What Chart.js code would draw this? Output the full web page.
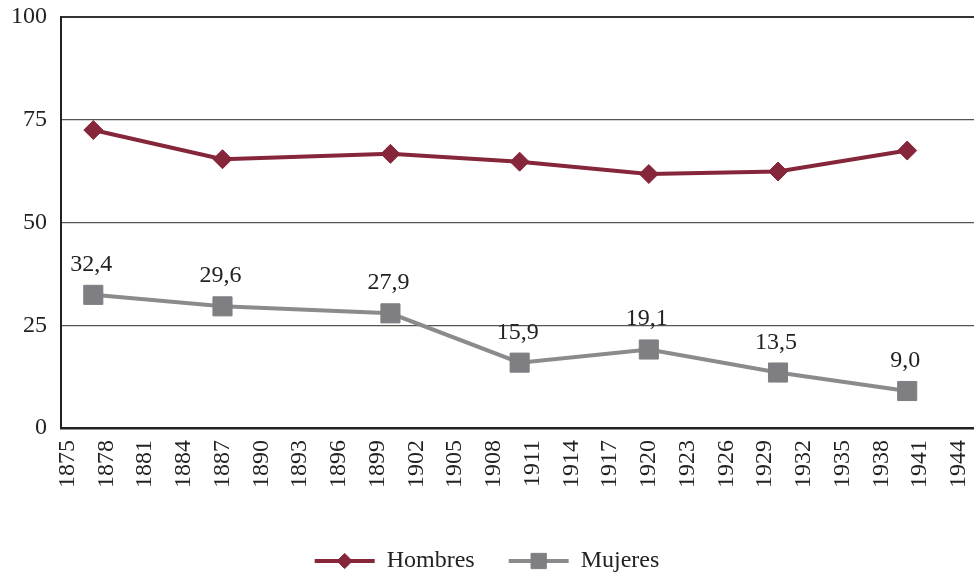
<!DOCTYPE html>
<html>
<head>
<meta charset="utf-8">
<script src="https://cdn.jsdelivr.net/npm/chart.js@4/dist/chart.umd.min.js"></script>
<style>
html,body{margin:0;padding:0;background:#ffffff;overflow:hidden;}
#wrap{width:974px;height:573px;position:relative;}
</style>
</head>
<body>
<div id="wrap"><canvas id="c" width="974" height="573"></canvas></div>
<script>
// ---- data ----
const years = [1877, 1887, 1900, 1910, 1920, 1930, 1940];
const hombres = [72.5, 65.4, 66.7, 64.8, 61.8, 62.4, 67.5];
const mujeres = [32.4, 29.6, 27.9, 15.9, 19.1, 13.5, 9.0];
const seriesNames = ['Hombres', 'Mujeres'];
const xTickLabels = [1875, 1878, 1881, 1884, 1887, 1890, 1893, 1896, 1899, 1902, 1905, 1908,
                     1911, 1914, 1917, 1920, 1923, 1926, 1929, 1932, 1935, 1938, 1941, 1944];
const yTickLabels = [0, 25, 50, 75, 100];

// ---- styles ----
const FONT = "'Liberation Serif', 'Times New Roman', serif";
const FS = 24;
const TEXT = '#222222';
const RED = '#85263a';
const GREY_LINE = '#8b8b8d';
const GREY_MARK = '#7f7f83';
const LEGEND_BOX = 60;

const toPts = (ys) => ys.map((v, i) => ({ x: years[i], y: v }));

const markerInfo = [
  { style: 'rectRot', radius: 9.5, color: RED, line: RED },
  { style: 'rect', radius: 13.5, color: GREY_MARK, line: GREY_LINE }
];

function drawMarker(ctx, style, r, x, y, color) {
  ctx.save();
  ctx.fillStyle = color;
  ctx.strokeStyle = color;
  ctx.lineWidth = 1;
  ctx.beginPath();
  if (style === 'rectRot') {
    ctx.moveTo(x - r, y); ctx.lineTo(x, y - r); ctx.lineTo(x + r, y); ctx.lineTo(x, y + r);
  } else {
    const s = Math.SQRT1_2 * r;
    ctx.rect(x - s, y - s, 2 * s, 2 * s);
  }
  ctx.closePath();
  ctx.fill();
  ctx.stroke();
  ctx.restore();
}

const legendMarkers = {
  id: 'legendMarkers',
  afterDraw(chart) {
    const lg = chart.legend;
    if (!lg || !lg.legendHitBoxes) return;
    const ctx = chart.ctx;
    lg.legendHitBoxes.forEach((hb, i) => {
      const m = markerInfo[i];
      const cx = hb.left + LEGEND_BOX / 2;
      const cy = hb.top + FS / 2;
      drawMarker(ctx, m.style, m.radius * 0.8, cx, cy, m.color);
    });
  }
};

const valueLabels = {
  id: 'valueLabels',
  afterDatasetsDraw(chart) {
    const ctx = chart.ctx;
    const meta = chart.getDatasetMeta(1);
    ctx.save();
    ctx.font = FS + 'px ' + FONT;
    ctx.fillStyle = TEXT;
    ctx.textAlign = 'center';
    ctx.textBaseline = 'alphabetic';
    meta.data.forEach((pt, i) => {
      const txt = mujeres[i].toFixed(1).replace('.', ',');
      ctx.fillText(txt, pt.x - 2, pt.y - 24);
    });
    ctx.restore();
  }
};

new Chart(document.getElementById('c'), {
  type: 'line',
  data: {
    datasets: [
      {
        label: seriesNames[0],
        data: toPts(hombres),
        borderColor: RED,
        backgroundColor: RED,
        borderWidth: 4,
        tension: 0,
        pointStyle: 'rectRot',
        pointRadius: 9.5,
        pointHoverRadius: 9.5,
        pointBackgroundColor: RED,
        pointBorderColor: RED,
        pointBorderWidth: 1
      },
      {
        label: seriesNames[1],
        data: toPts(mujeres),
        borderColor: GREY_LINE,
        backgroundColor: GREY_LINE,
        borderWidth: 4,
        tension: 0,
        pointStyle: 'rect',
        pointRadius: 13.5,
        pointHoverRadius: 13.5,
        pointBackgroundColor: GREY_MARK,
        pointBorderColor: GREY_MARK,
        pointBorderWidth: 1
      }
    ]
  },
  options: {
    responsive: false,
    animation: false,
    events: [],
    layout: { autoPadding: false, padding: { top: 17, left: 0, right: 0, bottom: -10 } },
    scales: {
      x: {
        type: 'linear',
        min: 1874.5,
        max: 1945.17,
        afterBuildTicks: (s) => { s.ticks = xTickLabels.map(v => ({ value: v })); },
        afterFit: (s) => { s.height = 87; s.paddingLeft = 0; s.paddingRight = 0; },
        grid: { display: false, drawTicks: false },
        border: { display: true, color: '#222222', width: 2.5 },
        ticks: {
          autoSkip: false,
          maxRotation: 90,
          minRotation: 90,
          padding: 12,
          color: TEXT,
          font: { family: FONT, size: FS },
          callback: (v) => String(v)
        }
      },
      y: {
        min: 0,
        max: 100,
        afterBuildTicks: (s) => { s.ticks = yTickLabels.map(v => ({ value: v })); },
        afterFit: (s) => { s.width = 61; s.paddingTop = 0; s.paddingBottom = 0; },
        grid: {
          drawTicks: false,
          color: (c) => (c.tick && c.tick.value === 100 ? '#333333' : '#555555'),
          lineWidth: (c) => (c.tick && c.tick.value === 100 ? 2 : 1.3)
        },
        border: { display: true, color: '#222222', width: 2 },
        ticks: {
          padding: 14,
          color: TEXT,
          font: { family: FONT, size: FS },
          callback: (v) => String(v)
        }
      }
    },
    plugins: {
      tooltip: { enabled: false },
      legend: {
        display: true,
        position: 'bottom',
        labels: {
          boxWidth: LEGEND_BOX,
          boxHeight: 4,
          padding: 34,
          color: TEXT,
          font: { family: FONT, size: FS },
          generateLabels: (chart) => chart.data.datasets.map((ds, i) => ({
            text: ds.label,
            fillStyle: markerInfo[i].line,
            strokeStyle: markerInfo[i].line,
            lineWidth: 0,
            fontColor: TEXT,
            datasetIndex: i,
            hidden: false
          }))
        }
      }
    }
  },
  plugins: [valueLabels, legendMarkers]
});
</script>
</body>
</html>
